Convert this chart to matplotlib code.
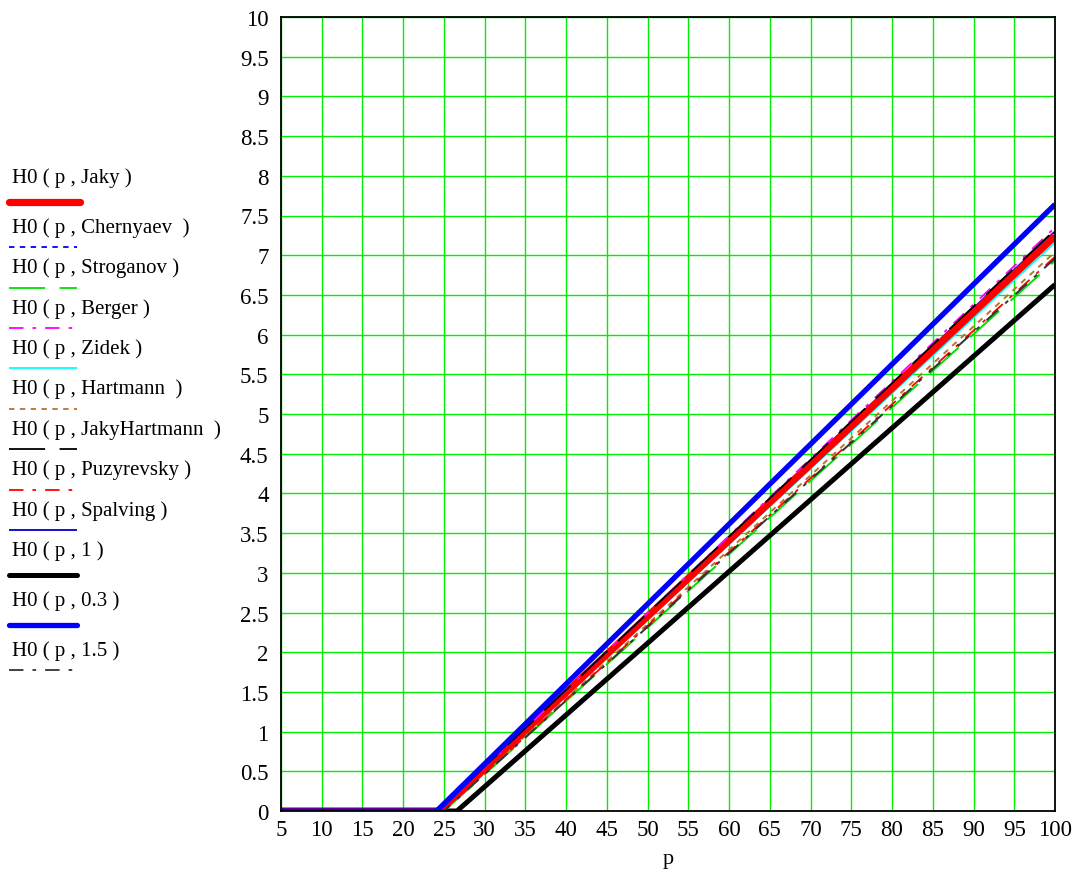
import matplotlib
matplotlib.use("Agg")
import matplotlib.pyplot as plt
from matplotlib.lines import Line2D

plt.rcParams['font.family'] = ['Liberation Serif', 'DejaVu Serif']

# series: H0 is 0 up to p_start, then linear up to h_at_100
names = ["Jaky", "Chernyaev  ", "Stroganov", "Berger ", "Zidek", "Hartmann  ",
         "JakyHartmann  ", "Puzyrevsky ", "Spalving", "1", "0.3", "1.5"]
p_start = [24.4, 24.5, 25.0, 24.3, 24.6, 24.9, 24.2, 24.9, 24.3, 26.6, 24.1, 25.0]
h_at_100 = [7.24, 7.22, 6.93, 7.35, 7.16, 7.04, 7.32, 6.98, 7.30, 6.63, 7.64, 6.96]
p_min, p_max = 5, 100

xticks = list(range(5, 101, 5))
yticks = [i * 0.5 for i in range(21)]

colors = ["#ff0000", "#0000ff", "#00e000", "#ff00ff", "#00ffff", "#b87333",
          "#000000", "#ff0000", "#0000cc", "#000000", "#0000ff", "#333333"]
widths = [5.2, 1.1, 1.4, 1.3, 1.3, 1.4, 1.3, 1.3, 1.3, 3.6, 3.8, 1.4]
dashes = [None, (3, 3), (20, 8), (8, 5, 2, 5), None, (3, 3), (20, 8),
          (8, 5, 2, 5), None, None, None, (8, 5, 2, 5)]

W, H = 1079, 870
fig = plt.figure(figsize=(W / 100, H / 100), dpi=100)
ax = fig.add_axes([281 / W, 58 / H, (1055 - 281) / W, (812 - 18) / H])

# drawing order: thin traces first, then the thick ones on top
order = [9, 1, 2, 4, 5, 7, 8, 0, 3, 6, 10, 11]
for i in order:
    x = [p_min, p_start[i], p_max]
    y = [0, 0, h_at_100[i]]
    ln, = ax.plot(x, y, color=colors[i], lw=widths[i], solid_capstyle='butt')
    if dashes[i] is not None:
        ln.set_dashes(dashes[i])

ax.set_xlim(p_min, p_max)
ax.set_ylim(0, 10)
ax.set_xticks(xticks)
ax.set_yticks(yticks)
ax.set_xticklabels([str(t) for t in xticks])
ax.set_yticklabels([("%g" % t) for t in yticks])
ax.grid(True, color="#00ee00", lw=1.0)
ax.set_axisbelow(True)
ax.tick_params(length=0, labelsize=16.5)
ax.tick_params(axis='y', pad=9)
ax.tick_params(axis='x', pad=6)
for s in ax.spines.values():
    s.set_linewidth(1.3)
ax.set_xlabel("p", fontsize=16, labelpad=6)

# legend column on the left (pixel positions from the top)
cur = 178
for i, n in enumerate(names):
    thick = widths[i] > 2
    g = 25 if thick else 20.2
    fig.text(12 / W, 1 - cur / H, "H0 ( p , %s)" % (n if n.endswith(" ") else n + " "),
             fontsize=15, va='center', ha='left')
    ly = 1 - (cur + g) / H
    x1 = 80 if i == 0 else 77
    ln = Line2D([9 / W, x1 / W], [ly, ly], transform=fig.transFigure,
                color=colors[i], lw=widths[i] if thick else 1.3,
                solid_capstyle='round' if thick else 'butt')
    if dashes[i] is not None:
        ln.set_dashes(dashes[i])
    fig.add_artist(ln)
    cur = cur + 2 * g

fig.savefig("out.png", dpi=100)
